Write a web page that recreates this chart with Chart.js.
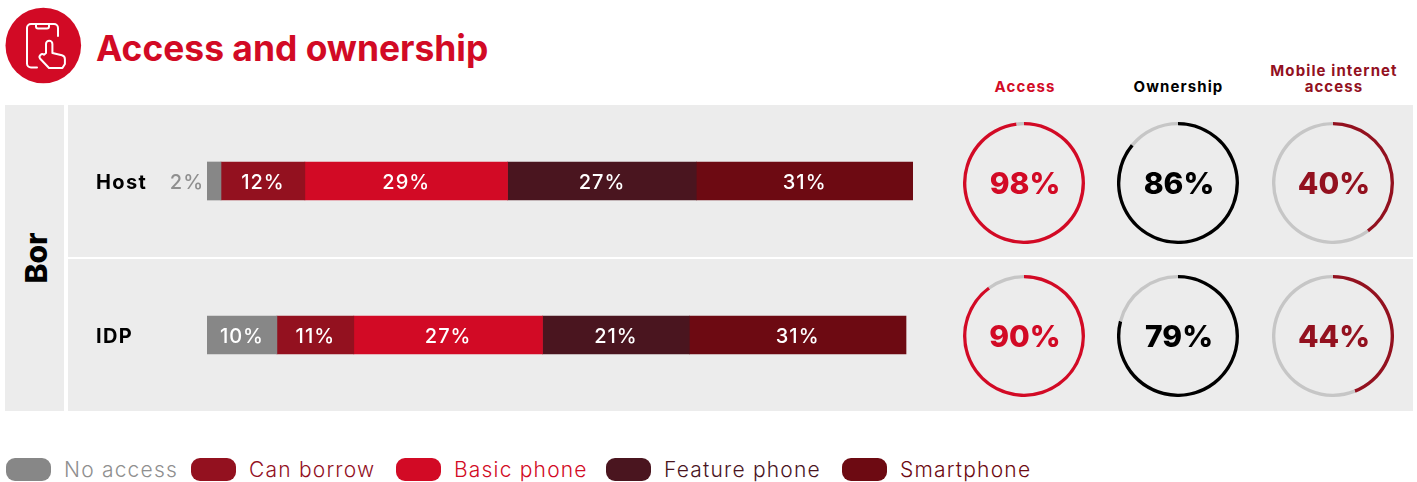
<!DOCTYPE html>
<html>
<head>
<meta charset="utf-8">
<title>Access and ownership</title>
<script src="https://cdn.jsdelivr.net/npm/chart.js@4"></script>
<style>
  html, body { margin: 0; padding: 0; background: #fff; }
  body { position: relative; width: 1417px; height: 482px; overflow: hidden; font-family: Inter, sans-serif; }
  .abs { position: absolute; }
  .panel { background: #ececec; }
  #title { left: 96px; top: 27px; font-size: 35.400px; line-height: 44px; font-weight: 700; color: #d20a25; white-space: nowrap; }
  .head { width: 160px; text-align: center; font-size: 15px; line-height: 16px; font-weight: 700; letter-spacing: 1.100px; }
  #region { left: 5px; top: 105px; width: 59px; height: 306px; display: flex; align-items: center; justify-content: center; }
  #region span { transform: rotate(-90deg); font-size: 30px; font-weight: 800; color: #000; margin-left: 3px; }
  .swatch { top: 458px; width: 45px; height: 23px; border-radius: 9px; }
  .legend-text { top: 457px; font-size: 21px; line-height: 26px; font-weight: 350; letter-spacing: 1.200px; white-space: nowrap; }
  canvas { display: block; }
</style>
</head>
<body>
<svg class="abs" style="left:0;top:0" width="90" height="90" viewBox="0 0 90 90">
  <circle cx="43.3" cy="45.5" r="37.8" fill="#d20a25"/>
  <g fill="none" stroke="#fff" stroke-width="2" stroke-linecap="round" stroke-linejoin="round">
    <path d="M37 67.5H31a4 4 0 0 1-4-4V28a4 4 0 0 1 4-4H54a4 4 0 0 1 4 4V36"/>
    <path d="M36 24.5v2a2 2 0 0 0 2 2h9a2 2 0 0 0 2-2v-2"/>
    <path d="M46 53V44a3.2 3.2 0 0 1 6.4 0v9l9.5 2.2a4 4 0 0 1 3 4V64l-2.5 4H49l-9-9.500a2.800 2.800 0 0 1 4-3.800z"/>
  </g>
</svg>
<div class="abs" id="title">Access and ownership</div>
<div class="abs panel" id="region"><span>Bor</span></div>
<div class="abs panel" style="left:68px;top:105px;width:1345px;height:152px"></div>
<div class="abs panel" style="left:68px;top:259px;width:1345px;height:152px"></div>
<canvas class="abs" id="bars" style="left:68px;top:104px"></canvas>

<script>
const groups = ['Host', 'IDP'];
const answers = ['No access', 'Can borrow', 'Basic phone', 'Feature phone', 'Smartphone'];
const noAccess = [2, 10];
const canBorrow = [12, 11];
const basicPhone = [29, 27];
const featurePhone = [27, 21];
const smartphone = [31, 31];

const ringTitles = [['Access'], ['Ownership'], ['Mobile internet', 'access']];
const accessShare = [98, 90];
const ownershipShare = [86, 79];
const mobileInternetShare = [40, 44];

const answerColors = ['#878787', '#93111f', '#d20a25', '#4a151f', '#6d0a12'];
const ringColors = ['#d20a25', '#000000', '#93111f'];
const trackColor = '#c6c6c6';

const legendLeft = [6, 191, 396, 606, 842];
const ringCenterX = [1024, 1177.5, 1333];
const ringCenterY = [183, 335.5];

// writes the group names and the share on each bar segment;
// slivers get their share outside on the left
const segmentLabels = {
  id: 'segmentLabels',
  afterDatasetsDraw(chart) {
    const ctx = chart.ctx;
    const yScale = chart.scales.y;
    ctx.save();
    ctx.textBaseline = 'middle';

    ctx.font = '700 20px Inter';
    ctx.letterSpacing = '1.4px';
    ctx.textAlign = 'left';
    ctx.fillStyle = '#000';
    groups.forEach((group, i) => {
      ctx.fillText(group, 28, yScale.getPixelForValue(i) + 2);
    });

    ctx.font = '500 20px Inter';
    ctx.letterSpacing = '1px';
    chart.data.datasets.forEach((dataset, i) => {
      chart.getDatasetMeta(i).data.forEach((bar, j) => {
        const value = dataset.data[j];
        if (value < 3) {
          ctx.textAlign = 'right';
          ctx.fillStyle = '#8f8f8f';
          ctx.fillText(value + '%', bar.base - 3, bar.y + 2);
        } else {
          ctx.textAlign = 'center';
          ctx.fillStyle = '#fff';
          ctx.fillText(value + '%', (bar.base + bar.x) / 2, bar.y + 2);
        }
      });
    });
    ctx.restore();
  },
};

const ringLabel = {
  id: 'ringLabel',
  afterDraw(chart) {
    const ctx = chart.ctx;
    const meta = chart.getDatasetMeta(0).data[0];
    ctx.save();
    ctx.font = '800 30px Inter';
    ctx.textAlign = 'center';
    ctx.textBaseline = 'middle';
    ctx.fillStyle = chart.data.datasets[0].backgroundColor[0];
    ctx.fillText(chart.data.datasets[0].data[0] + '%', meta.x + 1, meta.y + 2);
    ctx.restore();
  },
};

function fillBarChart() {
  const series = [noAccess, canBorrow, basicPhone, featurePhone, smartphone];
  const canvas = document.getElementById('bars');
  canvas.width = 870;
  canvas.height = 308;
  new Chart(canvas, {
    type: 'bar',
    plugins: [segmentLabels],
    data: {
      labels: groups,
      datasets: series.map((values, i) => ({
        label: answers[i],
        data: values,
        backgroundColor: answerColors[i],
        barThickness: 38,
      })),
    },
    options: {
      indexAxis: 'y',
      responsive: false,
      animation: false,
      layout: { padding: { left: 139, right: 25, top: 0, bottom: 0 } },
      plugins: { legend: { display: false }, tooltip: { enabled: false } },
      scales: {
        x: { stacked: true, min: 0, max: 101, display: false },
        y: { stacked: true, display: false },
      },
    },
  });
}

function fillRing(value, color, centerX, centerY) {
  const canvas = document.createElement('canvas');
  canvas.className = 'abs';
  canvas.width = 122;
  canvas.height = 122;
  canvas.style.left = centerX - 61 + 'px';
  canvas.style.top = centerY - 61 + 'px';
  document.body.appendChild(canvas);
  new Chart(canvas, {
    type: 'doughnut',
    plugins: [ringLabel],
    data: {
      datasets: [{
        data: [value, 100 - value],
        backgroundColor: [color, trackColor],
        borderWidth: 0,
      }],
    },
    options: {
      responsive: false,
      animation: false,
      cutout: '94.500%',
      plugins: { legend: { display: false }, tooltip: { enabled: false } },
    },
  });
}

function fillRings() {
  const shares = [accessShare, ownershipShare, mobileInternetShare];
  shares.forEach((values, col) => {
    values.forEach((value, row) => {
      fillRing(value, ringColors[col], ringCenterX[col], ringCenterY[row]);
    });
    const head = document.createElement('div');
    head.className = 'abs head';
    head.style.left = ringCenterX[col] - 79 + 'px';
    head.style.top = 95 - ringTitles[col].length * 16 + 'px';
    head.style.color = ringColors[col];
    head.innerHTML = ringTitles[col].join('<br>');
    document.body.appendChild(head);
  });
}

function fillLegend() {
  const textColors = ['#8f8f8f', '#93111f', '#d20a25', '#4a151f', '#6d0a12'];
  answers.forEach((name, i) => {
    const swatch = document.createElement('div');
    swatch.className = 'abs swatch';
    swatch.style.left = legendLeft[i] + 'px';
    swatch.style.background = answerColors[i];
    document.body.appendChild(swatch);
    const text = document.createElement('div');
    text.className = 'abs legend-text';
    text.style.left = legendLeft[i] + 58 + 'px';
    text.style.color = textColors[i];
    text.textContent = name;
    document.body.appendChild(text);
  });
}

fillBarChart();
fillRings();
fillLegend();
</script>
</body>
</html>
